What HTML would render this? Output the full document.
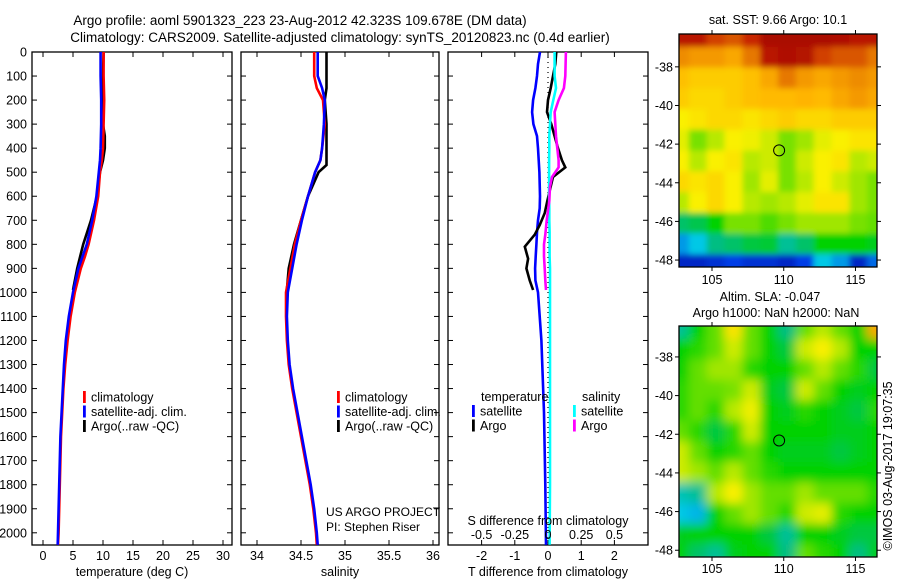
<!DOCTYPE html>
<html><head><meta charset="utf-8">
<style>
body{margin:0;background:#fff;}
svg{display:block;font-family:"Liberation Sans",sans-serif;}
text{fill:#000;}
</style></head>
<body>
<svg id="fig" width="900" height="580" viewBox="0 0 900 580">
<defs>
<clipPath id="c1"><rect x="679" y="34" width="198" height="233"/></clipPath>
<clipPath id="c2"><rect x="679" y="326" width="198" height="231"/></clipPath>
<filter id="b1" x="-5%" y="-5%" width="110%" height="110%"><feGaussianBlur stdDeviation="3"/></filter>
<filter id="b2" x="-5%" y="-5%" width="110%" height="110%"><feGaussianBlur stdDeviation="5"/></filter>
</defs>
<text x="300" y="25" font-size="13.5" text-anchor="middle">Argo profile: aoml 5901323_223 23-Aug-2012 42.323S 109.678E (DM data)</text>
<text x="340" y="42" font-size="13.5" text-anchor="middle">Climatology: CARS2009. Satellite-adjusted climatology: synTS_20120823.nc (0.4d earlier)</text>
<g id="g"></g>
</svg>
<script>
// ---------- data ----------
const depthTicks=[0,100,200,300,400,500,600,700,800,900,1000,1100,1200,1300,1400,1500,1600,1700,1800,1900,2000];
const tempTicks=[0,5,10,15,20,25,30];
const salTicks=[34,34.5,35,35.5,36];
const tdiffTicks=[-2,-1,0,1,2];
const sdiffTicks=[-0.5,-0.25,0,0.25,0.5];
const sdiffLabels=["-0.5","-0.25","0","0.25","0.5"];

const climDepths=[0,100,200,300,400,450,500,600,700,800,850,900,1000,1100,1200,1300,1400,1500,1600,1700,1800,1900,2000,2050];
const tempClim=[10.1,10.1,10.2,10.1,10.0,9.8,9.5,9.2,8.5,7.6,7.0,6.3,5.3,4.6,4.1,3.7,3.4,3.2,3.0,2.9,2.8,2.7,2.6,2.5];
const tempSat=[9.6,9.6,9.7,9.7,9.6,9.5,9.3,8.9,8.2,7.3,6.6,5.9,5.0,4.3,3.8,3.5,3.3,3.1,2.9,2.8,2.7,2.6,2.5,2.45];
const argoDepths=[0,100,200,300,350,400,450,500,600,700,800,850,900,990];
const tempArgo=[10.1,10.0,10.0,10.0,10.3,10.3,10.0,9.5,9.0,8.0,6.7,6.2,5.7,5.0];

const salDepths=[0,100,150,200,300,400,450,500,600,700,800,900,1000,1100,1200,1300,1400,1500,1600,1700,1800,1900,2000,2050];
const salClim=[34.65,34.65,34.68,34.75,34.77,34.74,34.72,34.66,34.58,34.50,34.43,34.38,34.33,34.33,34.34,34.36,34.40,34.45,34.50,34.55,34.60,34.64,34.67,34.68];
const salSat=[34.69,34.69,34.74,34.77,34.76,34.74,34.72,34.66,34.58,34.51,34.45,34.40,34.35,34.34,34.35,34.37,34.41,34.46,34.51,34.56,34.61,34.65,34.68,34.69];
const salArgoDepths=[0,100,150,200,300,400,470,500,600,700,800,900,990];
const salArgo=[34.79,34.79,34.79,34.77,34.79,34.79,34.79,34.70,34.58,34.50,34.42,34.36,34.34];

const diffDepths=[0,50,100,150,200,250,300,350,400,450,500,550,600,650,700,750,800,850,900,950,1000,1200,1500,1800,2050];
const tDiffSat=[-0.24,-0.3,-0.33,-0.38,-0.45,-0.48,-0.44,-0.33,-0.3,-0.28,-0.26,-0.25,-0.24,-0.25,-0.3,-0.33,-0.35,-0.37,-0.39,-0.38,-0.3,-0.2,-0.12,-0.08,-0.06];
const sDiffSat=[0.05,0.05,0.05,0.06,0.04,0.02,0.015,0.01,0.01,0.008,0.008,0.008,0.008,0.01,0.01,0.012,0.012,0.012,0.015,0.015,0.015,0.015,0.015,0.015,0.012];
const tDiffArgoDepths=[0,50,100,150,200,250,300,350,400,450,480,520,560,620,670,720,760,810,860,900,950,990];
const tDiffArgo=[0.25,0.22,0.15,0.08,0.0,-0.03,0.1,0.2,0.3,0.42,0.52,0.15,0.08,-0.02,-0.1,-0.25,-0.4,-0.7,-0.6,-0.65,-0.55,-0.45];
const sDiffArgoDepths=[0,100,150,200,250,300,350,400,450,480,520,560,620,700,760,800,850,900,950,990];
const sDiffArgo=[0.135,0.13,0.12,0.08,0.05,0.055,0.06,0.07,0.08,0.08,0.03,0.015,0.01,-0.01,-0.02,-0.03,-0.03,-0.025,-0.02,-0.015];

const lonTicks=[105,110,115];
const latTicks=[-38,-40,-42,-44,-46,-48];
const sstGrid=[
[0.95,0.95,0.9,0.88,0.92,0.98,0.98,0.98,0.98,0.97,0.95,0.95],
[0.82,0.8,0.8,0.78,0.85,0.95,0.97,0.96,0.9,0.88,0.88,0.85],
[0.74,0.72,0.72,0.72,0.74,0.78,0.85,0.8,0.78,0.8,0.82,0.8],
[0.72,0.7,0.7,0.72,0.74,0.75,0.75,0.76,0.75,0.78,0.8,0.78],
[0.66,0.68,0.7,0.7,0.68,0.7,0.72,0.7,0.7,0.72,0.72,0.72],
[0.64,0.56,0.6,0.66,0.65,0.62,0.56,0.58,0.64,0.66,0.68,0.68],
[0.66,0.6,0.66,0.68,0.6,0.62,0.56,0.62,0.66,0.68,0.6,0.62],
[0.7,0.68,0.7,0.66,0.58,0.64,0.56,0.6,0.66,0.62,0.58,0.56],
[0.6,0.66,0.7,0.66,0.6,0.58,0.6,0.64,0.68,0.68,0.58,0.56],
[0.42,0.44,0.5,0.56,0.56,0.54,0.56,0.58,0.58,0.58,0.56,0.55],
[0.25,0.3,0.4,0.42,0.45,0.46,0.38,0.42,0.5,0.5,0.5,0.48],
[0.1,0.1,0.12,0.15,0.12,0.12,0.1,0.15,0.3,0.25,0.1,0.2]];
const slaGrid=[
[0.38,0.5,0.55,0.68,0.55,0.5,0.4,0.55,0.6,0.55,0.5,0.78],
[0.5,0.52,0.55,0.62,0.55,0.5,0.45,0.62,0.66,0.6,0.5,0.5],
[0.5,0.55,0.58,0.58,0.52,0.5,0.5,0.55,0.6,0.55,0.52,0.45],
[0.52,0.55,0.55,0.56,0.62,0.48,0.45,0.62,0.55,0.5,0.48,0.5],
[0.52,0.55,0.52,0.6,0.65,0.5,0.48,0.52,0.5,0.48,0.45,0.52],
[0.55,0.52,0.45,0.52,0.62,0.5,0.5,0.5,0.5,0.48,0.48,0.5],
[0.62,0.55,0.5,0.52,0.55,0.5,0.48,0.48,0.48,0.45,0.48,0.5],
[0.62,0.58,0.55,0.6,0.55,0.52,0.5,0.5,0.5,0.5,0.5,0.5],
[0.35,0.38,0.6,0.66,0.58,0.55,0.55,0.58,0.55,0.55,0.55,0.52],
[0.3,0.28,0.5,0.55,0.58,0.55,0.52,0.62,0.64,0.52,0.5,0.5],
[0.48,0.5,0.5,0.5,0.5,0.45,0.38,0.5,0.5,0.48,0.45,0.45],
[0.5,0.42,0.38,0.48,0.5,0.5,0.4,0.55,0.52,0.5,0.4,0.48]];
const argoLon=109.678, argoLat=-42.323;

// ---------- helpers ----------
const NS="http://www.w3.org/2000/svg";
const G=document.getElementById('g');
function mk(tag,attrs,parent){const e=document.createElementNS(NS,tag);for(const k in attrs)e.setAttribute(k,attrs[k]);(parent||G).appendChild(e);return e;}
function txt(x,y,s,anchor,size,parent){const t=mk('text',{x:x,y:y,'font-size':size||12.5,'text-anchor':anchor||'middle'},parent);t.textContent=s;return t;}
const yD=d=>52+d*0.2404;
const cmapStops=[[0,[0,0,130]],[0.15,[0,60,230]],[0.3,[0,200,230]],[0.4,[0,190,130]],[0.5,[0,210,0]],[0.58,[160,230,0]],[0.66,[250,240,0]],[0.76,[255,180,0]],[0.85,[230,120,0]],[0.92,[200,40,0]],[1,[160,0,0]]];
function cmap(v){v=Math.max(0,Math.min(1,v));
 for(let i=1;i<cmapStops.length;i++){const a=cmapStops[i-1],b=cmapStops[i];if(v<=b[0]){const t=(v-a[0])/(b[0]-a[0]);
  const c=a[1].map((q,k)=>Math.round(q+(b[1][k]-q)*t));return `rgb(${c[0]},${c[1]},${c[2]})`;}}
 return 'rgb(160,0,0)';}

// ---------- profile panels ----------
function panel(x0,x1,name,xfun,ticks,labels,xtitle,yLabels){
 const p=mk('g',{});
 
 
 const fr=mk('rect',{x:x0,y:52,width:x1-x0,height:493,fill:'none',stroke:'#000','stroke-width':1.3},p);
 
 
 depthTicks.forEach(d=>{const y=yD(d);mk('line',{x1:x0,x2:x0+5,y1:y,y2:y,stroke:'#000'},p);mk('line',{x1:x1-5,x2:x1,y1:y,y2:y,stroke:'#000'},p);
  if(yLabels){const t=txt(x0-5,y+4.5,String(d),'end',12.5,p);}});
 ticks.forEach((v,i)=>{const x=xfun(v);mk('line',{x1:x,x2:x,y1:52,y2:57,stroke:'#000'},p);mk('line',{x1:x,x2:x,y1:540,y2:545,stroke:'#000'},p);
  const t=txt(x,560,labels[i],'middle',12.5,p);});
 const tt=txt((x0+x1)/2,576,xtitle,'middle',12.5,p);
 return p;}
function line(xs,ds,xfun,color,name,parent){const pts=xs.map((v,i)=>xfun(v).toFixed(1)+','+yD(ds[i]).toFixed(1)).join(' ');
 const l=mk('polyline',{points:pts,fill:'none',stroke:color,'stroke-width':2.6,'stroke-linejoin':'miter'},parent);
 
 }
function legend(x,y,items,parent){items.forEach((it,i)=>{const yy=y+i*14.5;mk('rect',{x:x,y:yy-6,width:2.8,height:12,fill:it[0]},parent);
 const t=txt(x+8,yy+4.5,it[1],'start',12.5,parent);});}

const xT=v=>43+v*6;
const p1=panel(32,232,'temperature-panel',xT,tempTicks,tempTicks.map(String),'temperature (deg C)',true);
line(tempArgo,argoDepths,xT,'#000','temp-argo-line',p1);
line(tempClim,climDepths,xT,'#f00','temp-clim-line',p1);
line(tempSat,climDepths,xT,'#00f','temp-sat-line',p1);
legend(83,397,[['#f00','climatology'],['#00f','satellite-adj. clim.'],['#000','Argo(..raw -QC)']],p1);

const xS=v=>257+(v-34)*88;
const p2=panel(241,439,'salinity-panel',xS,salTicks,salTicks.map(String),'salinity',false);
line(salArgo,salArgoDepths,xS,'#000','sal-argo-line',p2);
line(salClim,salDepths,xS,'#f00','sal-clim-line',p2);
line(salSat,salDepths,xS,'#00f','sal-sat-line',p2);
legend(337,397,[['#f00','climatology'],['#00f','satellite-adj. clim.'],['#000','Argo(..raw -QC)']],p2);
txt(326,516,'US ARGO PROJECT','start',12,p2);
txt(326,531,'PI: Stephen Riser','start',12,p2);

const xTd=v=>548+v*33.2;
const xSd=v=>548+v*132.8;
const p3=panel(448,648,'difference-panel',xTd,tdiffTicks,tdiffTicks.map(String),'T difference from climatology',false);
mk('line',{x1:548,x2:548,y1:52,y2:545,stroke:'#000','stroke-dasharray':'1,4','stroke-width':1.2},p3);
line(tDiffSat,diffDepths,xTd,'#00f','tdiff-sat-line',p3);
line(tDiffArgo,tDiffArgoDepths,xTd,'#000','tdiff-argo-line',p3);
line(sDiffSat,diffDepths,xSd,'#0ff','sdiff-sat-line',p3);
line(sDiffArgo,sDiffArgoDepths,xSd,'#f0f','sdiff-argo-line',p3);
txt(481,401,'temperature','start',12.5,p3);
txt(582,401,'salinity','start',12.5,p3);
legend(472,411,[['#00f','satellite'],['#000','Argo']],p3);
legend(573,411,[['#0ff','satellite'],['#f0f','Argo']],p3);
txt(548,525,'S difference from climatology','middle',12.5,p3);
sdiffTicks.forEach((v,i)=>{const t=txt(xSd(v),539,sdiffLabels[i],'middle',12.5,p3);});

// ---------- maps ----------
function map(y0,y1,latTop,latBot,grid,clip,blur,name,labelY){
 const lonL=102.7,lonR=116.5,x0=679,x1=877;
 const xL=lon=>x0+(lon-lonL)/(lonR-lonL)*(x1-x0);
 const yL=lat=>y0+(latTop-lat)/(latTop-latBot)*(y1-y0);
 const m=mk('g',{});
 
 
 const cg=mk('g',{'clip-path':`url(#${clip})`},m);
 const ig=mk('g',{filter:`url(#${blur})`},cg);
 const rows=grid.length,cols=grid[0].length;
 const cw=(x1-x0+16)/cols,ch=(y1-y0+16)/rows;
 grid.forEach((row,r)=>row.forEach((v,c)=>{const cell=mk('rect',{x:x0-8+c*cw,y:y0-8+r*ch,width:cw+0.6,height:ch+0.6,fill:cmap(v)},ig);
  
  }));
 mk('rect',{x:x0,y:y0,width:x1-x0,height:y1-y0,fill:'none',stroke:'#000','stroke-width':1.3},m);
 lonTicks.forEach(l=>{const x=xL(l);mk('line',{x1:x,x2:x,y1:y0-4,y2:y0,stroke:'#000'},m);mk('line',{x1:x,x2:x,y1:y1,y2:y1+4,stroke:'#000'},m);
  txt(x,labelY,String(l),'middle',12.5,m);});
 latTicks.forEach(l=>{const y=yL(l);mk('line',{x1:x0-4,x2:x0,y1:y,y2:y,stroke:'#000'},m);mk('line',{x1:x1,x2:x1+4,y1:y,y2:y,stroke:'#000'},m);
  txt(x0-6,y+4.5,String(l),'end',12.5,m);});
 const c=mk('circle',{cx:xL(argoLon),cy:yL(argoLat),r:5.5,fill:'none',stroke:'#000','stroke-width':1},m);
 
 
}
map(34,267,-36.3,-48.36,sstGrid,'c1','b1','sst-map',284);
map(326,557,-36.4,-48.35,slaGrid,'c2','b2','sla-map',573);
txt(778,24,'sat. SST: 9.66 Argo: 10.1','middle',12.5);
txt(770,301,'Altim. SLA: -0.047','middle',12.5);
txt(776,317,'Argo h1000: NaN h2000: NaN','middle',12.5);
const v=txt(0,0,'©IMOS 03-Aug-2017 19:07:35','middle',12.5);
v.setAttribute('transform','translate(892,466) rotate(-90)');


</script>
</body></html>
